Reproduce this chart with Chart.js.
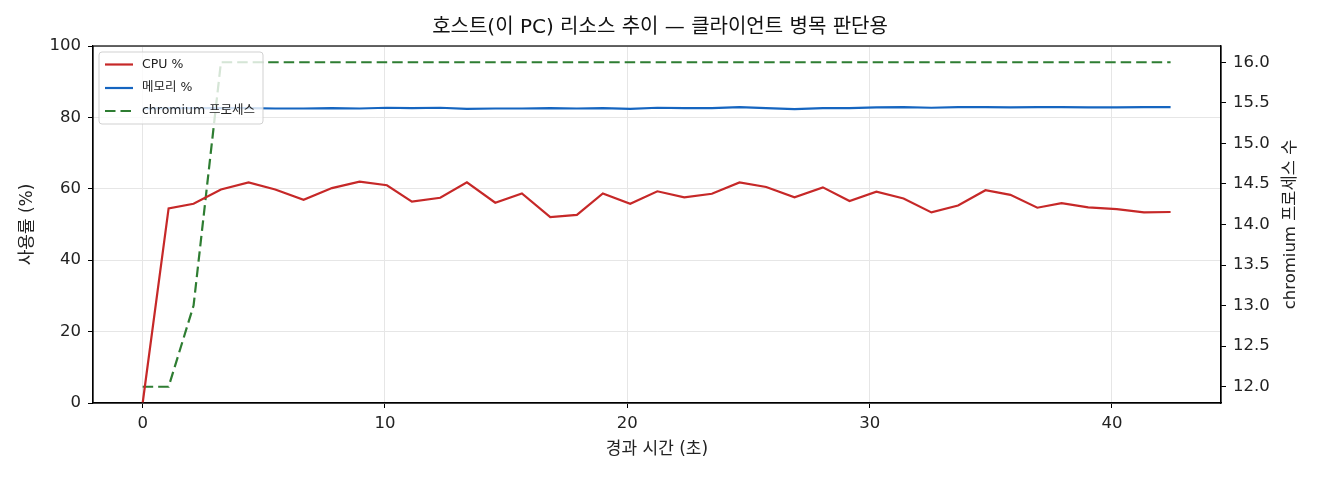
<!DOCTYPE html>
<html>
<head>
<meta charset="utf-8">
<script src="https://cdn.jsdelivr.net/npm/chart.js@4.4.1/dist/chart.umd.min.js"></script>
<style>
html,body{margin:0;padding:0;background:#fff;}
#c{display:block;}
</style>
</head>
<body>
<canvas id="c" width="1320" height="480"></canvas>
<script>
const times = [0, 1.07, 2.10, 3.23, 4.37, 5.47, 6.64, 7.81, 8.95, 10.08, 11.11, 12.28, 13.38, 14.55, 15.65, 16.82, 17.92, 18.99, 20.12, 21.24, 22.35, 23.49, 24.63, 25.73, 26.90, 28.07, 29.17, 30.28, 31.40, 32.55, 33.65, 34.78, 35.81, 36.92, 37.92, 39.02, 40.20, 41.32, 42.42];
const cpuValues = [0, 54.5, 55.8, 59.8, 61.8, 59.8, 56.9, 60.2, 62.0, 61.0, 56.4, 57.5, 61.8, 56.1, 58.7, 52.1, 52.7, 58.7, 55.8, 59.3, 57.6, 58.6, 61.8, 60.5, 57.6, 60.4, 56.6, 59.2, 57.3, 53.4, 55.3, 59.6, 58.3, 54.7, 56.0, 54.8, 54.3, 53.4, 53.5];
const memValues = [82.5, 82.6, 82.6, 82.6, 82.6, 82.5, 82.5, 82.6, 82.5, 82.7, 82.6, 82.7, 82.4, 82.5, 82.5, 82.6, 82.5, 82.6, 82.4, 82.7, 82.6, 82.6, 82.9, 82.6, 82.3, 82.6, 82.6, 82.8, 82.9, 82.7, 82.9, 82.9, 82.8, 82.9, 82.9, 82.8, 82.8, 82.9, 82.9];
const procValues = [12, 12, 13, 16, 16, 16, 16, 16, 16, 16, 16, 16, 16, 16, 16, 16, 16, 16, 16, 16, 16, 16, 16, 16, 16, 16, 16, 16, 16, 16, 16, 16, 16, 16, 16, 16, 16, 16, 16];
const xTicks = [0, 10, 20, 30, 40];
const yLeftTicks = [0, 20, 40, 60, 80, 100];
const yRightTicks = [12.0, 12.5, 13.0, 13.5, 14.0, 14.5, 15.0, 15.5, 16.0];
const labels = {
  title: '호스트(이 PC) 리소스 추이 — 클라이언트 병목 판단용',
  cpu: 'CPU %',
  mem: '메모리 %',
  proc: 'chromium 프로세스',
  x: '경과 시간 (초)',
  yLeft: '사용률 (%)',
  yRight: 'chromium 프로세스 수'
};

const FONT = '"DejaVu Sans", "Noto Sans CJK KR", sans-serif';
const toXY = (ys) => ys.map((v, i) => ({x: times[i], y: v}));

const frameAndLegend = {
  id: 'frameAndLegend',
  afterDatasetsDraw(chart) {
    const {ctx} = chart;
    ctx.save();
    const lx = 99, ly = 52, lw = 164, lh = 72, r = 3;
    ctx.beginPath();
    ctx.moveTo(lx + r, ly);
    ctx.arcTo(lx + lw, ly, lx + lw, ly + lh, r);
    ctx.arcTo(lx + lw, ly + lh, lx, ly + lh, r);
    ctx.arcTo(lx, ly + lh, lx, ly, r);
    ctx.arcTo(lx, ly, lx + lw, ly, r);
    ctx.closePath();
    ctx.fillStyle = 'rgba(255,255,255,0.8)';
    ctx.fill();
    ctx.strokeStyle = 'rgba(204,204,204,0.9)';
    ctx.lineWidth = 1;
    ctx.stroke();
    const rows = [64.5, 88, 111];
    chart.data.datasets.forEach((ds, i) => {
      const y = rows[i];
      ctx.beginPath();
      ctx.setLineDash(ds.borderDash || []);
      ctx.strokeStyle = ds.borderColor;
      ctx.lineWidth = ds.borderWidth;
      ctx.moveTo(105, y);
      ctx.lineTo(133, y);
      ctx.stroke();
      ctx.setLineDash([]);
      ctx.fillStyle = '#222';
      ctx.font = '12.5px ' + FONT;
      ctx.textBaseline = 'middle';
      ctx.textAlign = 'left';
      ctx.fillText(ds.label, 142, y);
    });
    ctx.restore();
  },
  afterDraw(chart) {
    const {ctx, chartArea: a} = chart;
    ctx.save();
    ctx.strokeStyle = '#000';
    ctx.lineWidth = 1.2;
    ctx.strokeRect(a.left, a.top, a.right - a.left, a.bottom - a.top);
    ctx.translate(1291, (a.top + a.bottom) / 2);
    ctx.rotate(-Math.PI / 2);
    ctx.fillStyle = '#222';
    ctx.font = '16.5px ' + FONT;
    ctx.textAlign = 'center';
    ctx.textBaseline = 'middle';
    ctx.fillText(labels.yRight, 0, 0);
    ctx.restore();
  }
};

new Chart(document.getElementById('c'), {
  type: 'line',
  data: {
    datasets: [
      {label: labels.cpu, data: toXY(cpuValues), borderColor: '#c62828', borderWidth: 2.2, pointRadius: 0, tension: 0, yAxisID: 'y', fill: false},
      {label: labels.mem, data: toXY(memValues), borderColor: '#1565c0', borderWidth: 2.2, pointRadius: 0, tension: 0, yAxisID: 'y', fill: false},
      {label: labels.proc, data: toXY(procValues), borderColor: '#2e7d32', borderWidth: 2.2, borderDash: [10.5, 5], pointRadius: 0, tension: 0, yAxisID: 'y2', fill: false}
    ]
  },
  options: {
    responsive: false,
    animation: false,
    devicePixelRatio: 1,
    layout: {padding: 0},
    plugins: {
      legend: {display: false},
      tooltip: {enabled: false},
      title: {
        display: true,
        text: labels.title,
        color: '#111',
        font: {family: FONT, size: 20, weight: 'normal', lineHeight: 1.2},
        padding: {top: 16, bottom: 6}
      }
    },
    scales: {
      x: {
        type: 'linear',
        min: -2.05,
        max: 44.5,
        afterBuildTicks: (s) => { s.ticks = xTicks.map(v => ({value: v})); },
        afterFit: (s) => { s.height = 77; },
        grid: {color: '#e6e6e6', lineWidth: 1, tickLength: 5, tickColor: '#000', drawTicks: true},
        border: {display: true, color: '#000', width: 1.2},
        ticks: {color: '#222', font: {family: FONT, size: 16.5}, padding: 6, maxRotation: 0},
        title: {display: true, text: labels.x, color: '#222', font: {family: FONT, size: 17, lineHeight: 1.2}, padding: {top: 0, bottom: 20}}
      },
      y: {
        type: 'linear',
        position: 'left',
        min: 0,
        max: 100,
        afterBuildTicks: (s) => { s.ticks = yLeftTicks.map(v => ({value: v})); },
        afterFit: (s) => { s.width = 93; },
        grid: {color: '#e6e6e6', lineWidth: 1, tickLength: 5, tickColor: '#000'},
        border: {display: true, color: '#000', width: 1.2},
        ticks: {color: '#222', font: {family: FONT, size: 16.5}, padding: 7},
        title: {display: true, text: labels.yLeft, color: '#222', font: {family: FONT, size: 17, lineHeight: 1.2}, padding: {top: 17, bottom: 0}}
      },
      y2: {
        type: 'linear',
        position: 'right',
        min: 11.8,
        max: 16.2,
        afterBuildTicks: (s) => { s.ticks = yRightTicks.map(v => ({value: v})); },
        afterFit: (s) => { s.width = 99; },
        grid: {drawOnChartArea: false, tickLength: 5, tickColor: '#000', color: '#000'},
        border: {display: true, color: '#000', width: 1.2},
        ticks: {color: '#222', font: {family: FONT, size: 16.5}, padding: 7, callback: (v) => Number(v).toFixed(1)}
      }
    }
  },
  plugins: [frameAndLegend]
});
</script>
</body>
</html>
